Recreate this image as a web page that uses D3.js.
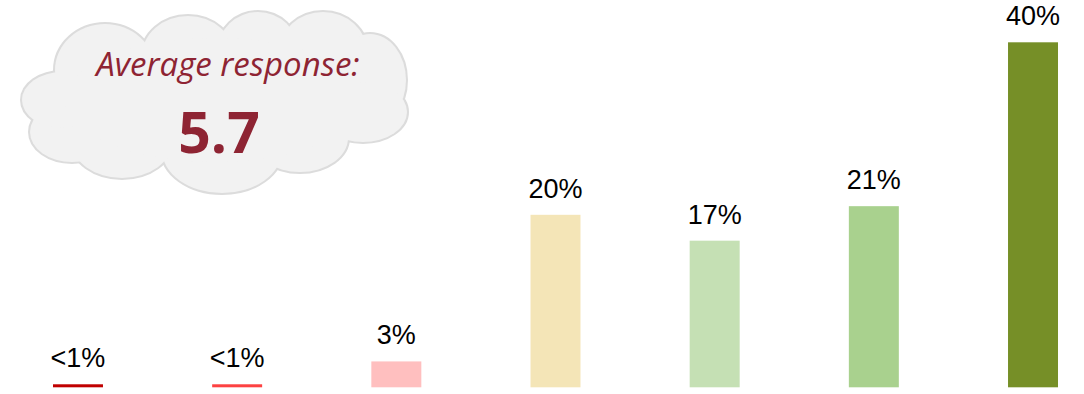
<!DOCTYPE html>
<html>
<head>
<meta charset="utf-8">
<script src="https://cdn.jsdelivr.net/npm/d3@7"></script>
<style>
  html, body { margin: 0; padding: 0; background: #ffffff; }
  svg { display: block; }
</style>
</head>
<body>
<svg id="chart" width="1084" height="394"></svg>
<script>
// Response distribution on a 1–7 scale
const categories = ["1", "2", "3", "4", "5", "6", "7"];
const shares = [0.35, 0.35, 3, 20, 17, 21, 40];          // percent of respondents
const barColors = ["#c00000", "#fd4242", "#ffbfbf", "#f4e5b7", "#c5e0b4", "#a9d18e", "#768f27"];
const averageLabel = "Average response:";
const averageValue = 5.7;

const svg = d3.select("#chart");
const baseY = 387.3;

const pad = 0.686;
const x = d3.scaleBand()
  .domain(categories)
  .range([-1.6, 1112.6])
  .paddingInner(pad)
  .paddingOuter(pad / 2);

const y = d3.scaleLinear()
  .domain([0, 40])
  .range([baseY, baseY - 345]);

const fmt = v => v < 1 ? "<1%" : d3.format("d")(v) + "%";

// Bars
svg.append("g")
  .selectAll("rect")
  .data(shares)
  .join("rect")
  .attr("x", (d, i) => x(categories[i]))
  .attr("width", x.bandwidth())
  .attr("y", d => y(d))
  .attr("height", d => y(0) - y(d))
  .attr("fill", (d, i) => barColors[i]);

// Value labels
svg.append("g")
  .selectAll("text")
  .data(shares)
  .join("text")
  .attr("x", (d, i) => x(categories[i]) + x.bandwidth() / 2)
  .attr("y", d => y(d) - 17)
  .attr("text-anchor", "middle")
  .attr("font-family", "'Liberation Sans', Arial, sans-serif")
  .attr("font-size", 27)
  .attr("fill", "#000")
  .text(d => fmt(d));

// Cloud callout: union of overlapping ellipses
const lobes = [
  [105, 70, 50, 46],
  [188, 56, 46, 40],
  [258, 50, 40, 38],
  [323, 52, 44, 40],
  [370, 80, 36, 46],
  [363, 112, 44, 30],
  [300, 138, 48, 34],
  [222, 150, 60, 43],
  [122, 142, 50, 36],
  [72, 132, 42, 30],
  [62, 100, 40, 28],
  [215, 100, 150, 62]
];
const cloud = svg.append("g");
cloud.selectAll("ellipse.edge")
  .data(lobes)
  .join("ellipse")
  .attr("class", "edge")
  .attr("cx", d => d[0]).attr("cy", d => d[1])
  .attr("rx", d => d[2]).attr("ry", d => d[3])
  .attr("fill", "#dcdcdc")
  .attr("stroke", "#dcdcdc")
  .attr("stroke-width", 4);
cloud.selectAll("ellipse.body")
  .data(lobes)
  .join("ellipse")
  .attr("class", "body")
  .attr("cx", d => d[0]).attr("cy", d => d[1])
  .attr("rx", d => d[2]).attr("ry", d => d[3])
  .attr("fill", "#f2f2f2");

cloud.append("text")
  .attr("x", 228)
  .attr("y", 76)
  .attr("text-anchor", "middle")
  .attr("font-family", "'Open Sans', 'Noto Sans', sans-serif")
  .attr("font-style", "italic")
  .attr("font-size", 33)
  .attr("fill", "#8e2433")
  .text(averageLabel);

cloud.append("text")
  .attr("x", 219)
  .attr("y", 153)
  .attr("text-anchor", "middle")
  .attr("font-family", "'Open Sans', 'Noto Sans', sans-serif")
  .attr("font-weight", "bold")
  .attr("font-size", 57)
  .attr("fill", "#8e2433")
  .text(d3.format(".1f")(averageValue));
</script>
</body>
</html>
